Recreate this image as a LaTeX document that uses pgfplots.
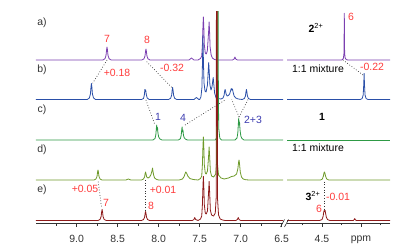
\documentclass[border=0pt]{standalone}
\usepackage{fontspec}
\setmainfont{Liberation Sans}
\setsansfont{Liberation Sans}
\usepackage{pgfplots}
\pgfplotsset{compat=1.18}
\definecolor{cA}{HTML}{7B3FB0}
\definecolor{cB}{HTML}{2A4FA8}
\definecolor{cC}{HTML}{2E9A45}
\definecolor{cD}{HTML}{6E9A2A}
\definecolor{cE}{HTML}{8E1A1A}
\definecolor{rd}{HTML}{FF3B3B}
\definecolor{bl}{HTML}{3C3CB0}
\definecolor{gy}{HTML}{333333}
\pgfplotsset{nmr/.style={scale only axis, height=211bp, ymin=0, ymax=211,
  x dir=reverse, axis y line=none, axis x line*=bottom,
  tick align=outside, major tick length=4bp, minor tick length=2.5bp,
  tick style={gy, line width=0.6bp},
  axis line style={gy, line width=0.8bp},
  tick label style={font=\fontsize{10.5}{12}\selectfont, text=gy, yshift=-5bp},
  /pgf/number format/assume math mode=true,
  anchor=south west,
  every axis plot/.append style={line width=0.8bp, line join=round}}}
\tikzset{conn/.style={gy, dotted, line width=0.7bp}}
\begin{document}
\begin{tikzpicture}
\useasboundingbox (0,0) rectangle (411bp,250bp);
\begin{axis}[nmr, at={(36bp,27bp)}, width=247bp, xmin=6.484, xmax=9.496,
  xtick={6.5,7,7.5,8,8.5,9}, minor xtick={6.75,7.25,7.75,8.25,8.75,9.25},
  xticklabel style={/pgf/number format/.cd,fixed,fixed zerofill,precision=1}]
% a)
\addplot[cA] coordinates {(9.496,163)
 (8.68,163)(8.655,164.3)(8.642,167.6)(8.635,173.4)(8.63,176)(8.625,173.4)(8.618,167.6)(8.605,164.3)(8.58,163)
 (8.205,163)(8.18,164.1)(8.167,166.9)(8.16,171.8)(8.155,174)(8.15,171.8)(8.143,166.9)(8.13,164.1)(8.105,163)
 (7.63,163)(7.60,165)(7.57,163)
 (7.52,163)(7.49,164.5)(7.475,167)(7.467,178)(7.46,197)(7.455,206)(7.45,197)(7.443,178)(7.432,170)(7.42,169)(7.407,172)(7.397,184)(7.39,193)(7.385,201)(7.38,193)(7.373,176)(7.36,168)(7.345,165)(7.32,163.5)(7.29,163)
 (7.10,163)(7.08,164)(7.07,166)(7.06,164)(7.04,163)
 (6.484,163)};
% b)
\addplot[cB] coordinates {(9.496,123.5)
 (8.87,123.5)(8.845,125.1)(8.832,129.1)(8.825,136.3)(8.82,139.5)(8.815,136.3)(8.808,129.1)(8.795,125.1)(8.77,123.5)
 (8.21,123.5)(8.185,124.5)(8.175,128)(8.168,133.5)(8.163,131.5)(8.158,133)(8.152,129)(8.14,125)(8.115,123.5)
 (7.88,123.5)(7.855,124.7)(7.842,127.7)(7.835,133.1)(7.83,135.5)(7.825,133.1)(7.818,127.7)(7.805,124.7)(7.78,123.5)
 (7.57,123.5)(7.54,125.5)(7.51,123.5)
 (7.50,123.5)(7.485,126)(7.473,135)(7.466,160)(7.46,188)(7.454,160)(7.447,140)(7.435,132)(7.422,131)(7.405,138)(7.396,152)(7.39,160.5)(7.384,152)(7.375,138)(7.362,133)(7.35,136)(7.341,142)(7.335,145.5)(7.329,140)(7.318,130)(7.30,125)(7.28,124.5)
 (7.24,124)(7.215,125)(7.202,128)(7.195,132)(7.19,133.5)(7.185,132)(7.178,129)(7.165,127)(7.15,127.5)
 (7.135,129)(7.12,133)(7.115,134.5)(7.108,133)(7.10,134)(7.093,131)(7.08,127)(7.06,125)(7.03,124)
 (6.98,123.5)(6.955,124.5)(6.942,127)(6.935,131.5)(6.93,133.5)(6.925,131.5)(6.918,127)(6.905,124.5)(6.88,123.5)
 (6.484,123.5)};
% c)
\addplot[cC] coordinates {(9.496,83)
 (8.07,83)(8.045,84.5)(8.035,88)(8.028,95)(8.024,98)(8.019,93)(8.014,95.5)(8.009,90)(8.0,86)(7.985,84)(7.96,83)
 (7.76,83)(7.735,84.3)(7.725,88)(7.718,94)(7.714,96)(7.709,91)(7.704,93)(7.698,88)(7.69,85.5)(7.675,84)(7.65,83)
 (7.31,83)(7.295,85)(7.285,95)(7.28,160)(7.277,400)(7.274,160)(7.268,95)(7.255,85)(7.235,83)
 (7.07,83)(7.045,85)(7.035,90)(7.028,100)(7.024,105)(7.019,98)(7.014,101)(7.008,93)(6.998,87)(6.985,84.5)(6.96,83)
 (6.484,83)};
% d)
\addplot[cD] coordinates {(9.496,43)
 (8.79,43)(8.765,44)(8.752,46.5)(8.745,51)(8.74,53)(8.735,51)(8.728,46.5)(8.715,44)(8.69,43)
 (8.40,43)(8.37,44)(8.34,43)
 (8.21,43)(8.185,44)(8.172,46)(8.165,49.5)(8.16,51)(8.155,49.5)(8.146,46)(8.13,45)(8.11,46)(8.094,48.5)(8.082,52)(8.075,55)(8.07,52)(8.062,48)(8.05,45)(8.025,43.5)(8.0,43)
 (7.75,43)(7.71,44)(7.69,46.5)(7.68,49)(7.67,51)(7.66,50)(7.645,47)(7.62,44.5)(7.58,43.5)
 (7.52,43)(7.49,44.5)(7.475,47)(7.467,58)(7.46,77)(7.455,86)(7.45,77)(7.443,58)(7.432,50)(7.42,49)(7.405,52)(7.392,66)(7.385,76)(7.378,66)(7.37,52)(7.355,47)(7.33,46)(7.305,49)(7.295,60)(7.289,400)(7.284,60)(7.27,48)(7.24,45)
 (7.20,44)(7.15,45)(7.11,46.5)(7.08,47)(7.05,49)(7.035,54)(7.025,61)(7.02,63)(7.014,59)(7.005,51)(6.99,46)(6.97,44)(6.94,43.3)(6.90,43)
 (6.484,43)};
% e)
\addplot[cE] coordinates {(9.496,2.5)
 (8.74,2.5)(8.715,3.6)(8.702,6.4)(8.695,11.3)(8.69,13.5)(8.685,11.3)(8.678,6.4)(8.665,3.6)(8.64,2.5)
 (8.21,2.5)(8.185,3.4)(8.172,5.7)(8.165,9.7)(8.16,11.5)(8.155,9.7)(8.148,5.7)(8.135,3.4)(8.11,2.5)
 (7.59,2.5)(7.57,3.5)(7.56,5.5)(7.55,3.5)
 (7.52,2.5)(7.49,4)(7.475,7)(7.467,18)(7.46,37)(7.455,46.5)(7.45,37)(7.443,18)(7.432,10)(7.42,9)(7.405,12)(7.392,30)(7.385,41.5)(7.378,30)(7.37,13)(7.355,8)(7.33,7)(7.31,10)(7.299,25)(7.293,400)(7.288,400)(7.283,25)(7.27,8)(7.25,4)(7.22,3)(7.19,2.5)
 (7.06,2.5)(7.04,3.5)(7.03,5.5)(7.02,3.5)(7.0,2.5)
 (6.484,2.5)};
\draw[conn] (axis cs:8.63,163) -- (axis cs:8.805,139.7);
\draw[conn] (axis cs:8.146,161.3) -- (axis cs:7.842,135.7);
\draw[conn] (axis cs:8.155,123) -- (axis cs:8.045,98);
\draw[conn] (axis cs:7.679,98) -- (axis cs:7.19,123);
\draw[conn] (axis cs:7.02,106) -- (axis cs:7.11,123.5);
\draw[conn] (axis cs:7.02,106) -- (axis cs:6.91,123.5);
\draw[conn] (axis cs:8.737,41.3) -- (axis cs:8.695,14.7);
\draw[conn] (axis cs:8.159,43) -- (axis cs:8.159,12);
\end{axis}
\begin{axis}[nmr, at={(287bp,27bp)}, width=103bp, xmin=3.628, xmax=4.949,
  xtick={4.5,4.0}, xticklabels={4.5,ppm}, minor xtick={4.75,4.25,3.75}]
\addplot[cA] coordinates {(4.949,163)(4.25,163)(4.235,163.5)(4.225,165)(4.218,170)(4.214,209.7)(4.210,170)(4.203,165)(4.19,163.5)(4.17,163)(3.628,163)};
\addplot[cB] coordinates {(4.949,123.5)(4.01,123.5)(3.985,124.5)(3.972,128)(3.965,138)(3.96,149.5)(3.955,138)(3.948,128)(3.935,124.5)(3.91,123.5)(3.628,123.5)};
\addplot[cC] coordinates {(4.949,83)(3.628,83)};
\addplot[cD] coordinates {(4.949,43)(4.52,43)(4.495,44)(4.482,47)(4.475,50)(4.47,51)(4.463,50)(4.455,47)(4.44,44)(4.415,43)(3.628,43)};
\addplot[cE] coordinates {(4.949,2.5)(4.53,2.5)(4.50,3.5)(4.485,7)(4.478,11)(4.472,12.5)(4.466,11.5)(4.46,12.5)(4.455,10)(4.445,6)(4.43,3.5)(4.40,2.5)(4.10,2.5)(4.085,3.5)(4.08,4.5)(4.075,3.5)(4.06,2.5)(3.628,2.5)};
\draw[conn] (axis cs:4.231,163) -- (axis cs:3.974,148);
\draw[conn] (axis cs:4.474,41.3) -- (axis cs:4.474,13);
\end{axis}
\begin{scope}[x=1bp,y=-1bp,shift={(0bp,250bp)}]
\draw[gy, line width=0.6bp] (280.5,227) -- (284.5,219.5) (284.5,227) -- (288.5,219.5);
\begin{scope}[every node/.style={font=\fontsize{10.5}{12}\selectfont}]
\node[gy] at (42,23) {a)};
\node[gy] at (42,70) {b)};
\node[gy] at (42,110) {c)};
\node[gy] at (42,150) {d)};
\node[gy] at (42,190) {e)};
\node[rd] at (107,39) {7};
\node[rd] at (147,40) {8};
\node[rd] at (117,73) {+0.18};
\node[rd] at (172,68) {-0.32};
\node[rd] at (372,67) {-0.22};
\node[rd] at (351,17) {6};
\node[rd] at (85,189) {+0.05};
\node[rd] at (106,203) {7};
\node[rd] at (163,190) {+0.01};
\node[rd] at (151,206) {8};
\node[rd] at (338,197) {-0.01};
\node[rd] at (319,209) {6};
\node[bl] at (158,117) {1};
\node[bl] at (183,118) {4};
\node[bl] at (253,120) {2+3};
\node at (316,28) {\textbf{2}\textsuperscript{2+}};
\node at (318,69) {1:1 mixture};
\node at (322,117) {\textbf{1}};
\node at (318,148) {1:1 mixture};
\node at (313,196) {\textbf{3}\textsuperscript{2+}};
\end{scope}
\end{scope}
\end{tikzpicture}
\end{document}
